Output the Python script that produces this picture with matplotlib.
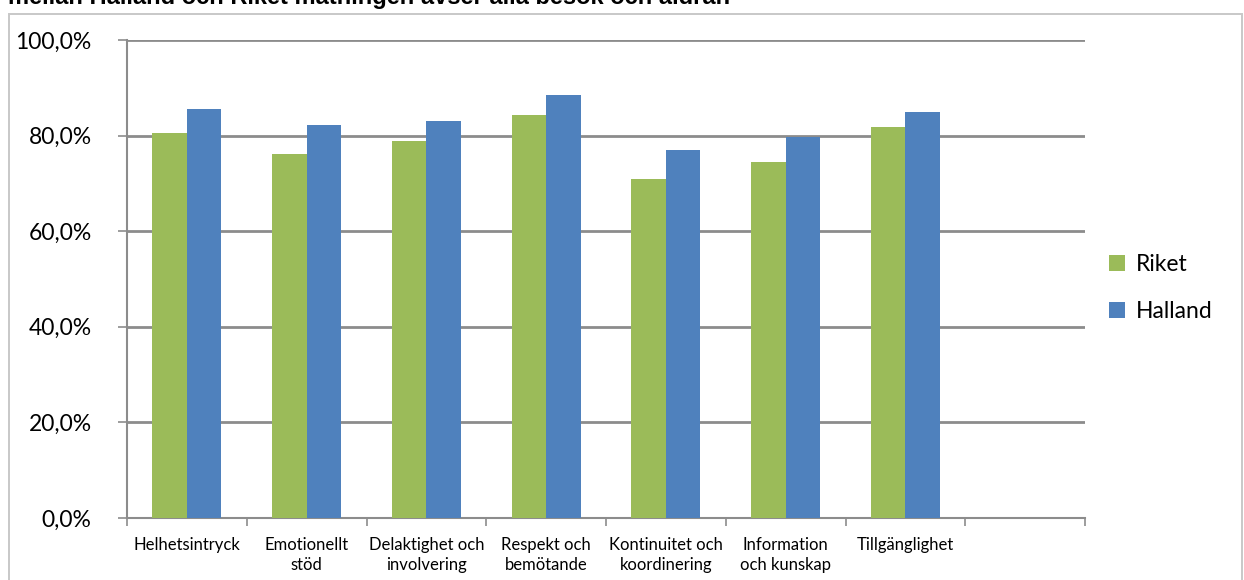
import matplotlib
matplotlib.use("Agg")
import matplotlib.pyplot as plt
from matplotlib.patches import Rectangle
import numpy as np

categories = ["Helhetsintryck", "Emotionellt\nstöd", "Delaktighet och\ninvolvering",
              "Respekt och\nbemötande", "Kontinuitet och\nkoordinering",
              "Information\noch kunskap", "Tillgänglighet", ""]
riket = [80.5, 76.2, 78.9, 84.3, 70.9, 74.5, 81.8, None]
halland = [85.6, 82.2, 83.1, 88.5, 77.0, 79.7, 84.9, None]
yticks = [0, 20, 40, 60, 80, 100]
ytick_labels = ["0,0%", "20,0%", "40,0%", "60,0%", "80,0%", "100,0%"]
title = "mellan Halland och Riket mätningen avser alla besök och åldrar."

GREEN = "#9BBB59"
BLUE = "#4F81BD"
GRID = "#8c8c8c"

plt.rcParams['font.family'] = ['Lato', 'DejaVu Sans']

W, H = 1244, 580
fig = plt.figure(figsize=(W / 100, H / 100), dpi=100)

# outer chart border
fig.patches.append(Rectangle((9 / W, -0.01), (1242 - 9) / W, (580 - 14) / H + 0.01,
                             transform=fig.transFigure, fill=False,
                             edgecolor="#c8c8c8", linewidth=1.4))
# title line, partly cut at the top edge as in the reference
fig.text(8 / W, 1 - 4 / H, title, ha="left", va="baseline", fontsize=17,
         fontweight="bold", family=["Liberation Sans", "DejaVu Sans"])

ax = fig.add_axes([127 / W, 1 - 518 / H, (1085 - 127) / W, (518 - 40) / H])
n = len(categories)
centers = np.arange(n) + 0.5
bw = 0.288
for i in range(n):
    if riket[i] is not None:
        ax.bar(centers[i] - bw / 2, riket[i], width=bw, color=GREEN,
               label="Riket" if i == 0 else None, zorder=3)
    if halland[i] is not None:
        ax.bar(centers[i] + bw / 2, halland[i], width=bw, color=BLUE,
               label="Halland" if i == 0 else None, zorder=3)

ax.set_xlim(0, n)
ax.set_ylim(0, 100)
ax.set_yticks(yticks)
ax.set_yticklabels(ytick_labels, fontsize=16.5)
for y in yticks[1:]:
    ax.axhline(y, color=GRID, linewidth=2, zorder=1)
ax.set_xticks(np.arange(n + 1))
ax.set_xticklabels([])
ax.set_xticks(centers, minor=True)
ax.set_xticklabels(categories, minor=True, fontsize=12, linespacing=1.3)
ax.tick_params(axis="x", which="minor", length=0, pad=14)
ax.tick_params(axis="x", which="major", length=6, color=GRID, width=1.2)
ax.tick_params(axis="y", length=6.5, color=GRID, width=1.2, pad=19)
for s in ["top", "right"]:
    ax.spines[s].set_visible(False)
for s in ["left", "bottom"]:
    ax.spines[s].set_color(GRID)
    ax.spines[s].set_linewidth(1.5)

ax.legend(loc="center left", bbox_to_anchor=(1.004, 0.481), frameon=False,
          fontsize=16.5, handlelength=0.7, handleheight=0.7, labelspacing=1.15,
          handletextpad=0.45)

fig.savefig("out.png", dpi=100)
